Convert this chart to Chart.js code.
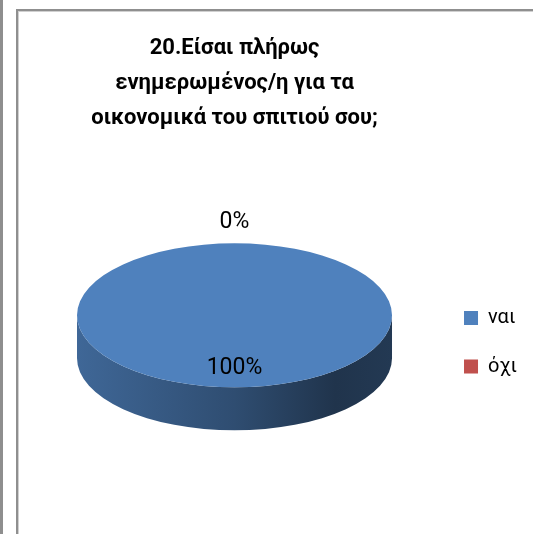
<!DOCTYPE html>
<html>
<head>
<meta charset="utf-8">
<title>20. Είσαι πλήρως ενημερωμένος/η</title>
<script src="https://cdn.jsdelivr.net/npm/chart.js@4.4.1/dist/chart.umd.min.js"></script>
<style>
  html, body { margin: 0; padding: 0; background: #fff; overflow: hidden; }
  canvas { display: block; }
</style>
</head>
<body>
<canvas id="pie" width="533" height="534"></canvas>
<script>
const categories = ['ναι', 'όχι'];
const shares = [100, 0];
const sliceColours = ['#4F81BD', '#C0504D'];
const titleLines = ['20.Είσαι πλήρως', 'ενημερωμένος/η για τα', 'οικονομικά του σπιτιού σου;'];

const total = shares.reduce((s, v) => s + v, 0);

function shade(hex, f) {
  const n = parseInt(hex.slice(1), 16);
  const r = Math.round(((n >> 16) & 255) * f);
  const g = Math.round(((n >> 8) & 255) * f);
  const b = Math.round((n & 255) * f);
  return `rgb(${r},${g},${b})`;
}

// grey page edge and the chart frame behind everything
const framePlugin = {
  id: 'frame',
  beforeDraw(chart) {
    const { ctx, width, height } = chart;
    ctx.save();
    ctx.fillStyle = '#fff';
    ctx.fillRect(0, 0, width, height);
    ctx.fillStyle = '#8e8e8e';
    ctx.fillRect(0, 0, 3, height);
    ctx.fillStyle = '#8f8f8f';
    ctx.fillRect(16, 9, 2, height - 9);
    ctx.fillRect(16, 9, width - 16, 2);
    ctx.fillStyle = '#d0d0d0';
    ctx.fillRect(18, 11, 1, height - 11);
    ctx.fillRect(18, 11, width - 18, 1);
    ctx.restore();
  }
};

// Flattens the pie into an ellipse and draws a rim under its front half.
const tiltPlugin = {
  id: 'tilt',
  beforeDatasetsDraw(chart, args, opts) {
    const ctx = chart.ctx;
    const arcs = chart.getDatasetMeta(0).data;
    if (!arcs.length) return;
    const { x: cx, y: cy, outerRadius: r } = arcs[0];
    const ry = r * opts.tilt;
    const depth = r * opts.depth;
    const top = cy - r * opts.lift;

    arcs.forEach((arc, i) => {
      if (arc.endAngle - arc.startAngle <= 0) return;
      const grad = ctx.createLinearGradient(cx - r, 0, cx + r, 0);
      const base = sliceColours[i];
      grad.addColorStop(0, shade(base, 0.8));
      grad.addColorStop(0.5, shade(base, 0.6));
      grad.addColorStop(0.82, shade(base, 0.4));
      grad.addColorStop(1, shade(base, 0.44));
      // only the part of the slice facing us (0..PI) shows a rim
      for (let k = -1; k <= 1; k++) {
        const s = Math.max(arc.startAngle, k * 2 * Math.PI);
        const e = Math.min(arc.endAngle, k * 2 * Math.PI + Math.PI);
        if (e <= s) continue;
        ctx.beginPath();
        ctx.ellipse(cx, top, r, ry, 0, s, e);
        ctx.ellipse(cx, top + depth, r, ry, 0, e, s, true);
        ctx.closePath();
        ctx.fillStyle = grad;
        ctx.fill();
      }
    });

    ctx.save();
    ctx.translate(cx, top);
    ctx.scale(1, opts.tilt);
    ctx.translate(-cx, -cy);
  },
  afterDatasetsDraw(chart, args, opts) {
    const ctx = chart.ctx;
    const arcs = chart.getDatasetMeta(0).data;
    if (!arcs.length) return;
    ctx.restore();

    const { x: cx, y: cy, outerRadius: r } = arcs[0];
    const ry = r * opts.tilt;
    const top = cy - r * opts.lift;
    ctx.save();
    ctx.font = '23px Roboto';
    ctx.fillStyle = '#000';
    ctx.textAlign = 'center';
    ctx.textBaseline = 'middle';
    arcs.forEach((arc, i) => {
      const mid = (arc.startAngle + arc.endAngle) / 2;
      const text = Math.round(shares[i] / total * 100) + '%';
      let x, y;
      if (shares[i] > 0) {
        x = cx + r * 0.74 * Math.cos(mid);
        y = top + ry * 0.74 * Math.sin(mid);
      } else {
        x = cx + (r + 21) * Math.cos(mid);
        y = top + (ry + 21) * Math.sin(mid);
      }
      ctx.fillText(text, x, y);
    });
    ctx.restore();
  }
};

new Chart(document.getElementById('pie'), {
  type: 'pie',
  data: {
    labels: categories,
    datasets: [{
      data: shares,
      backgroundColor: sliceColours,
      borderWidth: 0,
      radius: 157.5,
    }],
  },
  plugins: [framePlugin, tiltPlugin],
  options: {
    responsive: false,
    animation: false,
    events: [],
    layout: { padding: { left: 33.5, right: 6, top: 0, bottom: 9.5 } },
    plugins: {
      tilt: { tilt: 0.457, depth: 0.273, lift: 0.171 },
      tooltip: { enabled: false },
      title: {
        display: true,
        fullSize: false,
        text: titleLines,
        color: '#000',
        font: { family: 'Roboto', size: 22, weight: 'bold', lineHeight: 35 / 22 },
        padding: { top: 30.5, bottom: 24.5 },
      },
      legend: {
        position: 'right',
        fullSize: false,
        align: 'center',
        labels: {
          boxWidth: 14,
          boxHeight: 14,
          padding: 28.5,
          color: '#000',
          font: { family: 'Roboto', size: 20 },
        },
      },
    },
  },
});
</script>
</body>
</html>
